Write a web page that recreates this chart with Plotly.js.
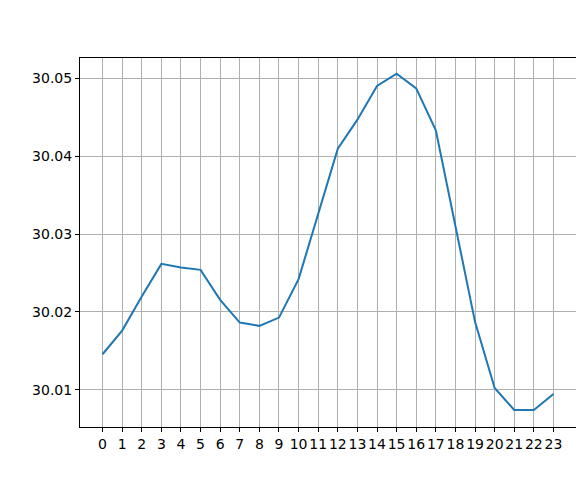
<!DOCTYPE html>
<html>
<head>
<meta charset="utf-8">
<script src="https://cdn.plot.ly/plotly-3.0.1.min.js"></script>
<style>
  html, body { margin: 0; padding: 0; background: #fff; }
  #chart { width: 576px; height: 479px; }
</style>
</head>
<body>
<div id="chart"></div>
<script>
// hours of the day and the measured value per hour
const hours = Array.from({ length: 24 }, (_, i) => i);
const values = [
  30.01458, 30.01761, 30.02198, 30.02617, 30.02570, 30.02540,
  30.02155, 30.01864, 30.01822, 30.01928, 30.02421, 30.03259,
  30.04094, 30.04466, 30.04899, 30.05056, 30.04868, 30.04329,
  30.03092, 30.01873, 30.01026, 30.00743, 30.00743, 30.00949
];
const yTicks = [30.01, 30.02, 30.03, 30.04, 30.05];

const trace = {
  x: hours,
  y: values,
  type: "scatter",
  mode: "lines",
  line: { color: "#1f77b4", width: 2 },
  hoverinfo: "x+y"
};

const axisCommon = {
  showline: true,
  linecolor: "#000",
  linewidth: 1,
  ticks: "outside",
  ticklen: 4,
  tickwidth: 1,
  tickcolor: "#000",
  showgrid: true,
  gridcolor: "#b0b0b0",
  gridwidth: 1,
  zeroline: false,
  tickfont: { family: "DejaVu Sans, sans-serif", size: 14, color: "#000" }
};

const layout = {
  width: 576,
  height: 479,
  paper_bgcolor: "#fff",
  plot_bgcolor: "#fff",
  margin: { l: 80, r: 0, t: 58, b: 52 },
  showlegend: false,
  xaxis: Object.assign({}, axisCommon, {
    mirror: true, // top spine, right one falls off the canvas
    range: [-1.15, 24.15],
    tickmode: "array",
    tickvals: hours,
    ticktext: hours.map(String),
    tickangle: 0
  }),
  yaxis: Object.assign({}, axisCommon, {
    mirror: false,
    range: [30.00525, 30.05257],
    tickmode: "array",
    tickvals: yTicks,
    ticktext: yTicks.map(v => v.toFixed(2))
  })
};

Plotly.newPlot("chart", [trace], layout, { displayModeBar: false, staticPlot: true });
</script>
</body>
</html>
